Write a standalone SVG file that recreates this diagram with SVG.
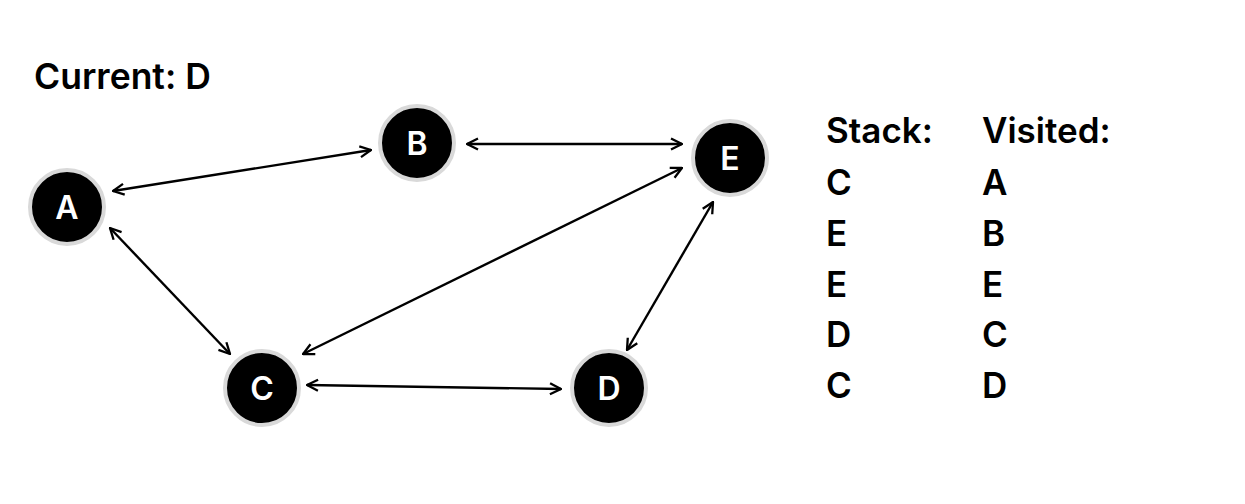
<svg xmlns="http://www.w3.org/2000/svg" width="1245" height="504" viewBox="0 0 1245 504">
<style>
.node circle{fill:#000;stroke:#d9d9d9;stroke-width:4}
.node text{fill:#fff;font-family:Inter,"Liberation Sans",sans-serif;font-weight:600;font-size:32px;text-anchor:middle}
.edge{stroke:#000;stroke-width:2.4;fill:none;marker-start:url(#ah);marker-end:url(#ah)}
.lbl{fill:#000;font-family:Inter,"Liberation Sans",sans-serif;font-weight:600;font-size:35px}
</style>
<defs>
<marker id="ah" viewBox="0 0 14 14" refX="13" refY="7" markerWidth="14" markerHeight="14" markerUnits="userSpaceOnUse" orient="auto-start-reverse">
<path d="M2,1.5 L13,7 L2,12.5" fill="none" stroke="#000" stroke-width="2.3"/>
</marker>
</defs>
<rect width="1245" height="504" fill="#fff"/>
<g id="connectors">
<line class="edge" x1="113" y1="191" x2="371" y2="150"/>
<line class="edge" x1="467" y1="144" x2="682" y2="144"/>
<line class="edge" x1="110" y1="228" x2="230" y2="354"/>
<line class="edge" x1="682" y1="168" x2="303" y2="354"/>
<line class="edge" x1="713" y1="202" x2="627" y2="350"/>
<line class="edge" x1="307" y1="385" x2="561" y2="389"/>
</g>
<g id="node-A" class="node"><circle cx="67" cy="207" r="37"/><text x="67" y="218.5">A</text></g>
<g id="node-B" class="node"><circle cx="417" cy="143" r="37"/><text x="417" y="154.5">B</text></g>
<g id="node-C" class="node"><circle cx="262" cy="388" r="37"/><text x="262" y="399.5">C</text></g>
<g id="node-D" class="node"><circle cx="609" cy="388" r="37"/><text x="609" y="399.5">D</text></g>
<g id="node-E" class="node"><circle cx="730" cy="158" r="37"/><text x="730" y="169.5">E</text></g>
<text class="lbl" x="34" y="89" style="font-size:35.5px">Current: D</text>
<g id="stack">
<text class="lbl" x="826" y="142.5">Stack:</text>
<text class="lbl" x="826" y="194.5">C</text>
<text class="lbl" x="826" y="245.5">E</text>
<text class="lbl" x="826" y="296.5">E</text>
<text class="lbl" x="826" y="346.5">D</text>
<text class="lbl" x="826" y="397.5">C</text>
</g>
<g id="visited">
<text class="lbl" x="982" y="142.5">Visited:</text>
<text class="lbl" x="982" y="194.5">A</text>
<text class="lbl" x="982" y="245.5">B</text>
<text class="lbl" x="982" y="296.5">E</text>
<text class="lbl" x="982" y="346.5">C</text>
<text class="lbl" x="982" y="397.5">D</text>
</g>
</svg>
